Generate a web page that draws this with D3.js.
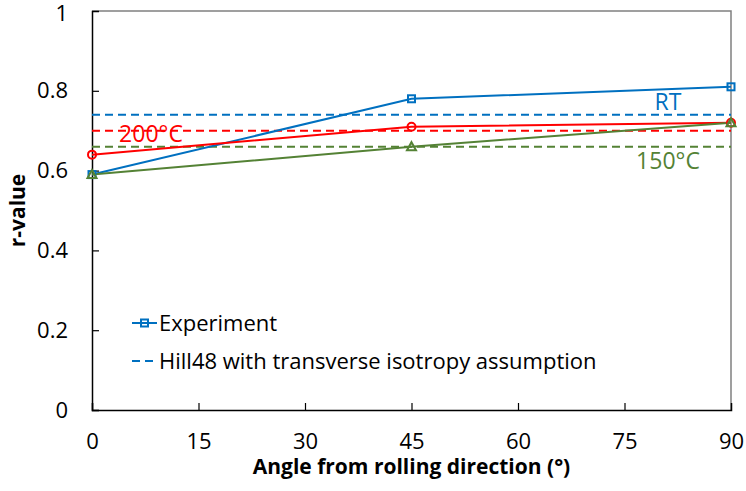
<!DOCTYPE html>
<html>
<head>
<meta charset="utf-8">
<script src="https://cdn.jsdelivr.net/npm/d3@7"></script>
<style>
  body { margin: 0; background: #fff; }
  text { font-family: 'Open Sans', Lato, sans-serif; }
</style>
</head>
<body>
<div id="chart"></div>
<script>
const width = 746;
const height = 491;

// data
const angles = [0, 45, 90];
const experimentRT = [0.59, 0.78, 0.81];
const experiment200 = [0.64, 0.71, 0.72];
const experiment150 = [0.59, 0.66, 0.72];
const hill48 = [0.74, 0.70, 0.66];   // RT, 200°C, 150°C
const hillLabels = ['RT', '200°C', '150°C'];
const xTicks = [0, 15, 30, 45, 60, 75, 90];
const yTicks = [0, 0.2, 0.4, 0.6, 0.8, 1];

const blue = '#0070C0';
const red = '#FF0000';
const green = '#548235';

const margin = {top: 11, right: 15, bottom: 81, left: 92};

const x = d3.scaleLinear().domain([0, 90]).range([margin.left, width - margin.right]);
const y = d3.scaleLinear().domain([0, 1]).range([height - margin.bottom, margin.top]);

const svg = d3.create('svg')
  .attr('width', width)
  .attr('height', height);

// plot border (top/right grey)
svg.append('path')
  .attr('d', `M${x(0)},${y(1)}H${x(90)}V${y(0)}`)
  .attr('fill', 'none')
  .attr('stroke', '#808080')
  .attr('stroke-width', 1.5);

const xAxis = svg.append('g')
  .attr('transform', `translate(0,${y(0)})`)
  .call(d3.axisBottom(x).tickValues(xTicks).tickSize(-7).tickPadding(23).tickFormat(d3.format('d')));
const yAxis = svg.append('g')
  .attr('transform', `translate(${x(0)},0)`)
  .call(d3.axisLeft(y).tickValues(yTicks).tickSize(-7).tickPadding(24).tickFormat((d)=>d === 0 || d === 1 ? d : d.toFixed(1)));

[xAxis, yAxis].forEach((g)=>{
  g.select('.domain').attr('stroke', '#000').attr('stroke-width', 1.5);
  g.selectAll('.tick line').attr('stroke', '#000').attr('stroke-width', 1.2);
  g.selectAll('.tick text').attr('font-size', 22).attr('fill', '#000');
});
xAxis.selectAll('.tick').filter((d)=>d === 90).select('line').remove();
yAxis.selectAll('.tick').filter((d)=>d === 1).select('line').remove();
// keep the top label inside the picture
yAxis.selectAll('.tick').filter((d)=>d === 1).select('text').attr('dy', '0.42em');

svg.append('text')
  .attr('x', (x(0) + x(90)) / 2)
  .attr('y', 474)
  .attr('text-anchor', 'middle')
  .attr('font-size', 21)
  .attr('font-weight', 'bold')
  .text('Angle from rolling direction (°)');

svg.append('text')
  .attr('transform', `translate(25,${y(0.5)}) rotate(-90)`)
  .attr('text-anchor', 'middle')
  .attr('font-size', 21)
  .attr('font-weight', 'bold')
  .text('r-value');

// Hill48 dashed lines
const dashColors = [blue, red, green];
hill48.forEach((v, i)=>{
  svg.append('line')
    .attr('x1', x(0)).attr('x2', x(90))
    .attr('y1', y(v)).attr('y2', y(v))
    .attr('stroke', dashColors[i])
    .attr('stroke-width', 2)
    .attr('stroke-dasharray', '8,5');
});

const line = d3.line().x((d)=>x(d[0])).y((d)=>y(d[1]));
const series = [
  {values: experimentRT, color: blue, marker: 'square'},
  {values: experiment200, color: red, marker: 'circle'},
  {values: experiment150, color: green, marker: 'triangle'},
];

series.forEach((s)=>{
  const pts = angles.map((a, i)=>[a, s.values[i]]);
  svg.append('path')
    .attr('d', line(pts))
    .attr('fill', 'none')
    .attr('stroke', s.color)
    .attr('stroke-width', 2);
});

function drawMarker(g, type, cx, cy, color) {
  if (type === 'square') {
    g.append('rect').attr('x', cx - 3.5).attr('y', cy - 3.5).attr('width', 7).attr('height', 7)
      .attr('fill', 'none').attr('stroke', color).attr('stroke-width', 2);
  } else if (type === 'circle') {
    g.append('circle').attr('cx', cx).attr('cy', cy).attr('r', 4)
      .attr('fill', 'none').attr('stroke', color).attr('stroke-width', 2);
  } else {
    g.append('path').attr('d', `M${cx},${cy - 4.5}L${cx + 4.5},${cy + 3.5}L${cx - 4.5},${cy + 3.5}Z`)
      .attr('fill', 'none').attr('stroke', color).attr('stroke-width', 2);
  }
}

series.forEach((s)=>{
  const g = svg.append('g');
  angles.forEach((a, i)=>drawMarker(g, s.marker, x(a), y(s.values[i]), s.color));
});

// labels for temperatures
const labelPos = [[668, 110], [151, 142], [668, 169]];
hillLabels.forEach((t, i)=>{
  svg.append('text')
    .attr('x', labelPos[i][0])
    .attr('y', labelPos[i][1])
    .attr('text-anchor', 'middle')
    .attr('font-size', 23)
    .attr('fill', dashColors[i])
    .text(t);
});

// legend
const legend = svg.append('g');
legend.append('line').attr('x1', 132).attr('x2', 157).attr('y1', 323).attr('y2', 323)
  .attr('stroke', blue).attr('stroke-width', 2);
drawMarker(legend, 'square', 144.5, 323, blue);
legend.append('text').attr('x', 159).attr('y', 331).attr('font-size', 22).attr('fill', '#000').text('Experiment');
legend.append('line').attr('x1', 132).attr('x2', 157).attr('y1', 361).attr('y2', 361)
  .attr('stroke', blue).attr('stroke-width', 2).attr('stroke-dasharray', '8,5');
legend.append('text').attr('x', 159).attr('y', 369).attr('font-size', 22).attr('fill', '#000')
  .text('Hill48 with transverse isotropy assumption');

document.getElementById('chart').appendChild(svg.node());
</script>
</body>
</html>
